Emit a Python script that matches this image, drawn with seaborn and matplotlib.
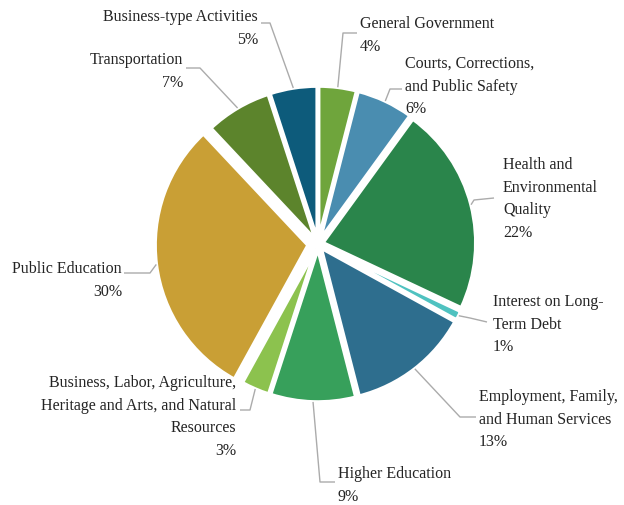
import numpy as np
import matplotlib
matplotlib.use("Agg")
import matplotlib.pyplot as plt
import seaborn as sns

# Spending share by function (percent), clockwise from the top
categories = [
    "General Government",
    "Courts, Corrections,\nand Public Safety",
    "Health and\nEnvironmental\nQuality",
    "Interest on Long-\nTerm Debt",
    "Employment, Family,\nand Human Services",
    "Higher Education",
    "Business, Labor, Agriculture,\nHeritage and Arts, and Natural\nResources",
    "Public Education",
    "Transportation",
    "Business-type Activities",
]
shares = [4, 6, 22, 1, 13, 9, 3, 30, 7, 5]
colors = ["#6fa53c", "#4a8db0", "#2a854b", "#4fc2c0", "#2e6e8e",
          "#37a05b", "#8cc24e", "#c99f35", "#5c842c", "#0d5b7b"]

sns.set_theme(style="white")
plt.rcParams["font.family"] = ["Liberation Serif", "DejaVu Serif"]

W, H = 624, 505
fig = plt.figure(figsize=(W / 100, H / 100), dpi=100)
ax = fig.add_axes([0, 0, 1, 1])

cx, cy = 318, H - 244
radius = 153
explode = [5] * len(shares)
explode[categories.index("Public Education")] = 10

wedges, _ = ax.pie(
    shares, colors=sns.color_palette(colors), startangle=90, counterclock=False,
    center=(cx, cy), radius=radius, explode=explode,
    wedgeprops=dict(edgecolor="white", linewidth=2.6),
)

# label placement: (text x, top of first line, alignment, elbow points in pixels)
layout = [
    (360, 16, "left", [(357, 33), (343, 33)]),
    (405, 56, "left", [(402, 89), (390, 89)]),
    (503, 157, "left", [(494, 198), (474, 200)]),
    (493, 294, "left", [(487, 322), (470, 318)]),
    (479, 389, "left", [(476, 417), (460, 417)]),
    (338, 466, "left", [(335, 482), (320, 482)]),
    (236, 375, "right", [(240, 410), (250, 410)]),
    (122, 261, "right", [(124, 273), (150, 273)]),
    (183, 52, "right", [(186, 68), (200, 68)]),
    (258, 9, "right", [(261, 23), (270, 23)]),
]

for w, name, val, exp, (tx, ty, ha, elbow) in zip(wedges, categories, shares, explode, layout):
    mid = np.deg2rad(0.5 * (w.theta1 + w.theta2))
    r_edge = radius + exp
    px = cx + r_edge * np.cos(mid)
    py = cy + r_edge * np.sin(mid)
    xs = [e[0] for e in elbow] + [px]
    ys = [H - e[1] for e in elbow] + [py]
    ax.plot(xs, ys, color="#ababab", lw=1.0, solid_capstyle="butt")
    ax.text(tx, H - ty, f"{name}\n{val}%", ha=ha, va="top", fontsize=11.5,
            color="#242424", linespacing=1.55, multialignment=ha)

ax.set_xlim(0, W)
ax.set_ylim(0, H)
ax.set_aspect("equal")
ax.axis("off")
fig.savefig("out.png", dpi=100, facecolor="white")
